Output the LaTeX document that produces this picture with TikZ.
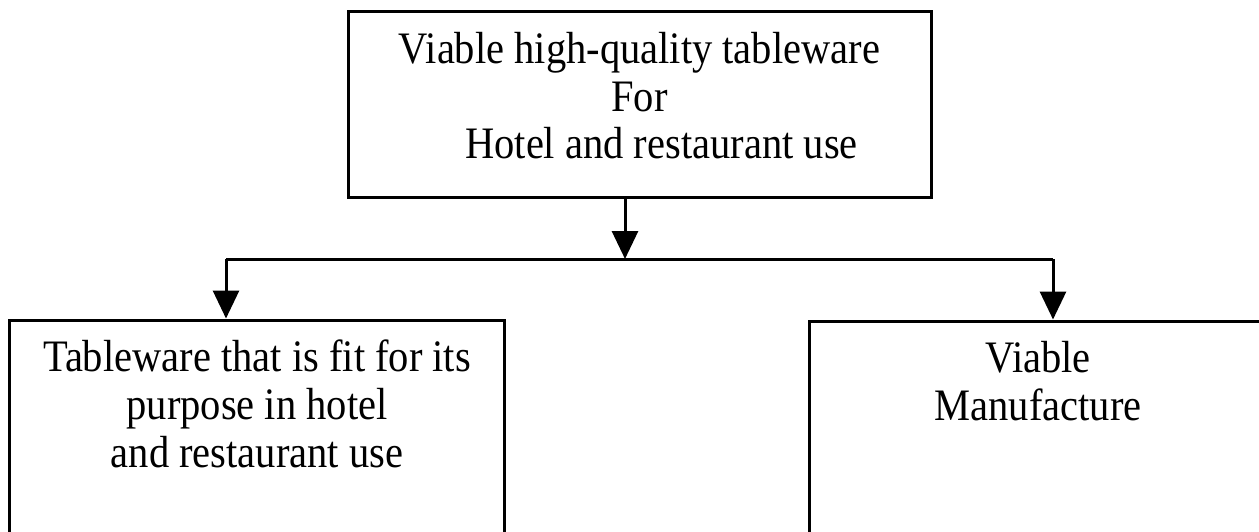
\documentclass[tikz,border=0pt]{standalone}
\usepackage{fontspec}
\setmainfont{Liberation Serif}[FakeStretch=0.9]
\usetikzlibrary{arrows.meta}
\begin{document}
\begin{tikzpicture}[x=1pt,y=-1pt,
  box/.style={draw,line width=3pt,rectangle,inner sep=0pt},
  label/.style={align=center,inner sep=0pt,anchor=base,
    font=\fontsize{45}{48}\selectfont},
  link/.style={line width=3pt},
  arrowlink/.style={link,-{Triangle[width=26pt,length=28pt]}}]
\useasboundingbox (0,0) rectangle (1259,532);
\clip (0,0) rectangle (1259,532);
\fill[white] (0,0) rectangle (1259,532);

% boxes
\node[box,minimum width=583pt,minimum height=186pt] (top) at (639.5,105) {};
\node[box,minimum width=495pt,minimum height=300pt] (left) at (256.5,470) {};
\node[box,minimum width=500pt,minimum height=300pt] (right) at (1059,471) {};

% box texts (anchored at the baseline of the last line)
\node[label] (toptext) at (639.5,159)
  {Viable high-quality tableware\\For\\\hspace*{44pt}Hotel and restaurant use};
\node[label] (lefttext) at (257,467)
  {Tableware that is fit for its\\purpose in hotel\\and restaurant use};
\node[label] (righttext) at (1038,420) {Viable\\Manufacture};

% connectors
\coordinate (split) at (625,259);
\coordinate (lcorner) at (226,259);
\coordinate (rcorner) at (1053,259);
\draw[arrowlink] (top.south -| split) -- (split);
\draw[link] (lcorner) -- (rcorner);
\draw[arrowlink] (lcorner) -- (lcorner |- left.north);
\draw[arrowlink] (rcorner) -- (rcorner |- right.north);
\end{tikzpicture}
\end{document}
